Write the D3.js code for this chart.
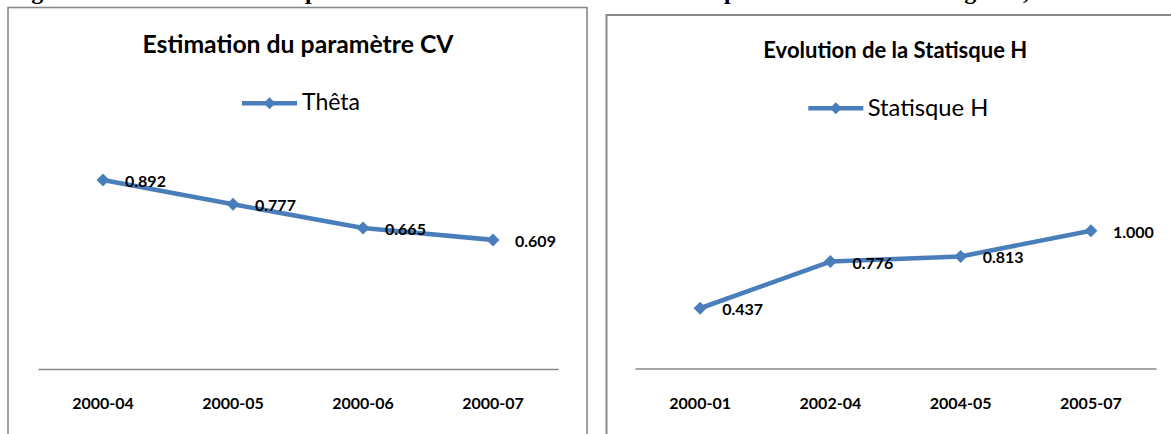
<!DOCTYPE html>
<html>
<head>
<meta charset="utf-8">
<script src="https://cdn.jsdelivr.net/npm/d3@7"></script>
<style>
  html, body { margin: 0; padding: 0; background: #ffffff; }
  svg { display: block; }
</style>
</head>
<body>
<svg id="chart" width="1171" height="434"></svg>
<script>
// ---- Data ----
const leftTitle = "Estimation du paramètre CV";
const leftSeriesName = "Thêta";
const leftCategories = ["2000-04", "2000-05", "2000-06", "2000-07"];
const leftValues = [0.892, 0.777, 0.665, 0.609];

const rightTitle = "Evolution de la Statisque H";
const rightSeriesName = "Statisque H";
const rightCategories = ["2000-01", "2002-04", "2004-05", "2005-07"];
const rightValues = [0.437, 0.776, 0.813, 1.000];

// ---- Drawing ----
const svg = d3.select("#chart");
const lineColor = "#4A7EBB";
const borderColor = "#898989";
const sansFont = "Lato, 'Open Sans', 'Liberation Sans', sans-serif";

// clipped caption line above the charts (only its descenders are visible, as in the reference)
const cap = svg.append("text")
  .attr("y", -1)
  .attr("font-family", "'Liberation Serif', 'Times New Roman', serif")
  .attr("font-weight", "bold")
  .attr("font-size", 24)
  .attr("fill", "#000");
cap.append("tspan").attr("x", 10).text("Figure 3 : Estimation du");
cap.append("tspan").attr("x", 305).text("paramètre CV");
cap.append("tspan").attr("x", 724).text("par la méthode des");
cap.append("tspan").attr("x", 943).text("régimes,");

function fitWidth(sel, target) {
  const fs = parseFloat(sel.attr("font-size"));
  const w = sel.node().getComputedTextLength();
  if (w > 0) sel.attr("font-size", fs * target / w);
}

function diamond(g, x, y, r) {
  g.append("path")
    .attr("d", `M${x},${y - r}L${x + r},${y}L${x},${y + r}L${x - r},${y}Z`)
    .attr("fill", lineColor);
}

function drawChart(cfg) {
  const g = svg.append("g");

  // frame
  g.append("rect")
    .attr("x", cfg.box[0]).attr("y", cfg.box[1])
    .attr("width", cfg.box[2]).attr("height", cfg.box[3])
    .attr("fill", "#fff")
    .attr("stroke", borderColor)
    .attr("stroke-width", cfg.boxStroke);

  // title
  const t = g.append("text")
    .attr("x", cfg.titleX).attr("y", cfg.titleY)
    .attr("text-anchor", "middle")
    .attr("font-family", sansFont)
    .attr("font-weight", "bold")
    .attr("font-size", 22)
    .attr("fill", "#000")
    .text(cfg.title);
  fitWidth(t, cfg.titleW);

  // legend
  g.append("line")
    .attr("x1", cfg.legX0).attr("x2", cfg.legX1)
    .attr("y1", cfg.legY).attr("y2", cfg.legY)
    .attr("stroke", lineColor).attr("stroke-width", 4.5);
  diamond(g, (cfg.legX0 + cfg.legX1) / 2, cfg.legY, 6);
  const lt = g.append("text")
    .attr("x", cfg.legTextX).attr("y", cfg.legTextY)
    .attr("font-family", sansFont)
    .attr("font-size", 24)
    .attr("fill", "#000")
    .text(cfg.series);
  fitWidth(lt, cfg.legTextW);

  // scales
  const x = d3.scaleBand().domain(cfg.categories).range(cfg.xRange);
  const y = d3.scaleLinear().domain(cfg.yDomain).range(cfg.yRange);
  const cx = c => x(c) + x.bandwidth() / 2;

  // category axis
  const axis = g.append("g")
    .attr("transform", `translate(0,${cfg.yRange[0]})`)
    .call(d3.axisBottom(x).tickSize(0).tickSizeOuter(0).tickPadding(29));
  axis.select(".domain").attr("stroke", "#868686").attr("stroke-width", 1.6);
  axis.selectAll(".tick text")
    .attr("font-family", sansFont)
    .attr("font-weight", "bold")
    .attr("font-size", 16)
    .attr("fill", "#000");

  // series line
  const pts = cfg.categories.map((c, i) => [cx(c), y(cfg.values[i])]);
  g.append("path")
    .attr("d", d3.line()(pts))
    .attr("fill", "none")
    .attr("stroke", lineColor)
    .attr("stroke-width", 4.6)
    .attr("stroke-linejoin", "round");
  pts.forEach(p => diamond(g, p[0], p[1], 6.5));

  // data labels
  g.selectAll("text.lbl")
    .data(cfg.values)
    .enter().append("text")
    .attr("class", "lbl")
    .attr("x", (d, i) => cx(cfg.categories[i]) + 22)
    .attr("y", d => y(d) + 7)
    .attr("font-family", sansFont)
    .attr("font-weight", "bold")
    .attr("font-size", 16)
    .attr("fill", "#000")
    .text(d => d3.format(".3f")(d));
}

drawChart({
  box: [8, 7.5, 579, 460], boxStroke: 1.6,
  title: leftTitle, titleX: 298, titleY: 53.3, titleW: 311,
  series: leftSeriesName,
  legX0: 242, legX1: 297, legY: 103.3, legTextX: 302, legTextY: 110, legTextW: 58,
  categories: leftCategories, values: leftValues,
  xRange: [38, 558], yDomain: [0, 1], yRange: [369, 157]
});

drawChart({
  box: [606.5, 15, 620, 460], boxStroke: 2,
  title: rightTitle, titleX: 895.3, titleY: 58.3, titleW: 264,
  series: rightSeriesName,
  legX0: 808.3, legX1: 863.3, legY: 108.3, legTextX: 867.7, legTextY: 115.7, legTextW: 120.7,
  categories: rightCategories, values: rightValues,
  xRange: [635, 1156], yDomain: [0, 1.2], yRange: [368.5, 203.1]
});
</script>
</body>
</html>
